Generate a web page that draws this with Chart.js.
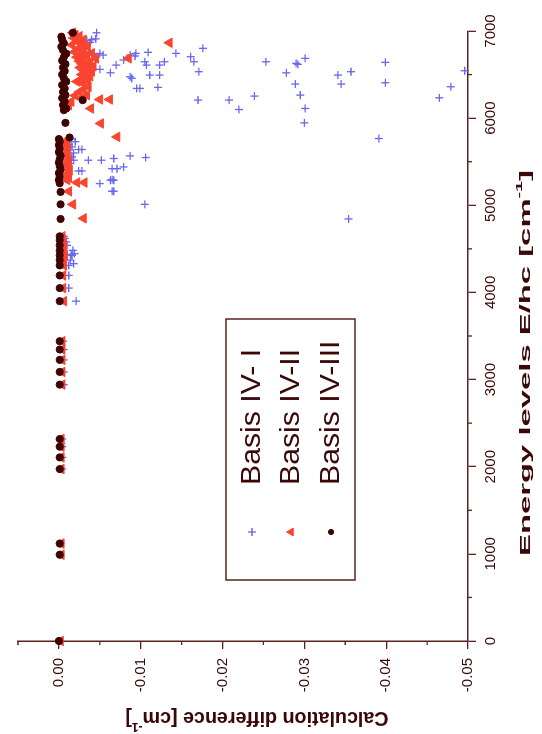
<!DOCTYPE html>
<html>
<head>
<meta charset="utf-8">
<script src="https://cdn.jsdelivr.net/npm/chart.js@4.4.1/dist/chart.umd.min.js"></script>
<style>
html, body { margin: 0; padding: 0; background: #fff; overflow: hidden; }
/* chart is drawn lying down, then turned a quarter turn to the left */
#wrap { position: absolute; left: -96px; top: 96px; width: 734px; height: 542px; transform: rotate(-90deg); }
</style>
</head>
<body>
<div id="wrap"><canvas id="chart" width="734" height="542"></canvas></div>
<script>
// Basis IV- I (blue crosses)
const energyI = [0, 990, 1118, 1973, 2107, 2230, 2318, 2942, 3088, 3226, 3345, 3440,
    3900, 4050, 4195, 4310, 4330, 4370, 4425, 4437, 4445, 4483, 4540, 4580, 4620, 4644,
    4843, 5011, 5161, 5161, 5249, 5287, 5295, 5287, 5300, 5350, 5394, 5394, 5420, 5420, 5440, 5450, 5479,
    5517, 5517, 5517, 5537, 5548, 5555, 5567, 5600, 5640, 5640, 5670, 5700, 5730, 5760,
    5766, 5946, 6099, 6111, 6207, 6207, 6233, 6253, 6264, 6341, 6341, 6353, 6360, 6391, 6391, 6406,
    6457, 6475, 6494, 6494, 6494, 6520, 6521, 6533, 6533, 6544, 6560, 6609, 6609, 6609, 6617, 6629, 6640,
    6647, 6647, 6647, 6647, 6667, 6686, 6700, 6705, 6713, 6724, 6724, 6743, 6743, 6743, 6755, 6760,
    6793, 6801, 6820, 6850, 6870, 6890, 6900, 6910, 6980];
const diffI = [-0.0001, -0.0002, -0.0002, -0.0004, -0.0004, -0.0004, -0.0004, -0.0006, -0.0006, -0.0006, -0.0006, -0.0005,
    -0.0021, -0.0012, -0.0012, -0.0012, -0.0018, -0.0014, -0.0016, -0.0015, -0.0019, -0.0017, -0.0010, -0.0009, -0.0007, -0.0006,
    -0.0354, -0.0105, -0.0065, -0.0067, -0.0050, -0.0063, -0.0065, -0.0067, -0.0008, -0.0010, -0.0024, -0.0028, -0.0065, -0.0071, -0.0079, -0.0012, -0.0014,
    -0.0036, -0.0052, -0.0018, -0.0067, -0.0106, -0.0016, -0.0087, -0.0018, -0.0024, -0.0028, -0.0016, -0.0012, -0.0020, -0.0015,
    -0.0391, -0.0300, -0.0220, -0.0301, -0.0170, -0.0208, -0.0465, -0.0239, -0.0295, -0.0095, -0.0099, -0.0121, -0.0479, -0.0289, -0.0345, -0.0399,
    -0.0089, -0.0087, -0.0111, -0.0123, -0.0341, -0.0278, -0.0063, -0.0171, -0.0357, -0.0496, -0.0050, -0.0070, -0.0107, -0.0123, -0.0292, -0.0290, -0.0399,
    -0.0105, -0.0129, -0.0165, -0.0253, -0.0079, -0.0301, -0.0045, -0.0161, -0.0093, -0.0054, -0.0087, -0.0050, -0.0094, -0.0143, -0.0109, -0.0036,
    -0.0029, -0.0176, -0.0032, -0.0030, -0.0038, -0.0034, -0.0040, -0.0045, -0.0046];

// Basis IV-II (red triangles)
const energyII = [0, 990, 1118, 1973, 2107, 2230, 2318, 2942, 3088, 3226, 3345, 3440,
    3900, 4050, 4195, 4310, 4370, 4425, 4480, 4540, 4600, 4644,
    4850, 5011, 5160, 5261, 5261, 5290, 5320, 5360, 5400, 5440, 5480, 5520, 5560, 5600, 5640, 5680, 5720, 5750, 5785,
    5939, 6111, 6150, 6190, 6214, 6214, 6230, 6260, 6264, 6300, 6330, 6360, 6400, 6420, 6430, 6437, 6460, 6480, 6500,
    6520, 6535, 6550, 6565, 6580, 6595, 6610, 6625, 6640, 6655, 6670, 6685, 6686, 6700, 6715, 6730, 6745, 6760,
    6780, 6800, 6820, 6840, 6860, 6865, 6880, 6900, 6920, 6940, 6954, 6980];
const diffII = [-0.0002, -0.0003, -0.0003, -0.0003, -0.0003, -0.0003, -0.0003, -0.0004, -0.0004, -0.0004, -0.0004, -0.0004,
    -0.0006, -0.0005, -0.0005, -0.0006, -0.0005, -0.0007, -0.0006, -0.0006, -0.0005, -0.0004,
    -0.0030, -0.0017, -0.0012, -0.0022, -0.0031, -0.0010, -0.0012, -0.0010, -0.0013, -0.0011, -0.0009, -0.0012, -0.0010, -0.0009, -0.0011, -0.0010, -0.0008, -0.0010, -0.0071,
    -0.0051, -0.0039, -0.0012, -0.0015, -0.0050, -0.0062, -0.0028, -0.0020, -0.0034, -0.0025, -0.0030, -0.0036, -0.0029, -0.0022, -0.0035, -0.0026, -0.0031, -0.0038, -0.0028,
    -0.0032, -0.0040, -0.0030, -0.0036, -0.0026, -0.0042, -0.0033, -0.0028, -0.0038, -0.0025, -0.0030, -0.0045, -0.0085, -0.0022, -0.0034, -0.0027, -0.0040, -0.0019,
    -0.0030, -0.0024, -0.0035, -0.0016, -0.0028, -0.0135, -0.0022, -0.0030, -0.0018, -0.0025, -0.0020, -0.0017];

// Basis IV-III (dark dots)
const energyIII = [0, 990, 1118, 1973, 2107, 2230, 2318, 2942, 3088, 3226, 3345, 3440,
    3900, 4050, 4195, 4310, 4370, 4425, 4480, 4540, 4600, 4644,
    4843, 5011, 5153, 5253, 5290, 5330, 5370, 5410, 5450, 5490, 5530, 5570, 5610, 5650, 5690, 5730, 5760, 5778,
    5946, 6092, 6111, 6150, 6190, 6207, 6230, 6265, 6300, 6340, 6380, 6420, 6460, 6500, 6540, 6580,
    6620, 6660, 6700, 6740, 6780, 6820, 6860, 6900, 6935, 6980];
const diffIII = [0.0000, -0.0001, -0.0001, -0.0001, -0.0001, -0.0001, -0.0001, -0.0001, -0.0001, -0.0001, -0.0001, -0.0001,
    -0.0001, -0.0001, -0.0001, -0.0001, -0.0001, -0.0001, -0.0001, -0.0001, -0.0001, -0.0001,
    -0.0002, -0.0002, -0.0002, -0.0001, 0.0000, -0.0001, 0.0000, -0.0002, -0.0001, 0.0000, -0.0001, -0.0002, 0.0000, -0.0001, 0.0000, -0.0001, 0.0000, -0.0013,
    -0.0008, -0.0006, -0.0009, -0.0005, -0.0007, -0.0029, -0.0004, -0.0008, -0.0005, -0.0007, -0.0004, -0.0009, -0.0006, -0.0004, -0.0007, -0.0005,
    -0.0008, -0.0004, -0.0006, -0.0009, -0.0005, -0.0003, -0.0006, -0.0004, -0.0003, -0.0017];

const seriesNames = ['Basis IV- I', 'Basis IV-II', 'Basis IV-III'];

const axisColor = '#5c2222';
const textColor = '#3b0808';
const blue = 'rgb(104, 104, 238)';
const red = 'rgb(250, 68, 48)';
const dark = 'rgb(62, 4, 4)';

function pairs(xs, ys) {
    return xs.map((x, i) => ({ x: x, y: ys[i] }));
}

// draws a string with a raised "-1", squeezed or stretched to a given length
function drawTitle(ctx, parts, cx, cy, angle, targetLen, size) {
    ctx.save();
    const big = 'bold ' + size + 'px "Liberation Sans", Arial, sans-serif';
    const small = 'bold ' + Math.round(size * 0.6) + 'px "Liberation Sans", Arial, sans-serif';
    let total = 0;
    parts.forEach(p => { ctx.font = p.sup ? small : big; total += ctx.measureText(p.t).width; });
    ctx.translate(cx, cy);
    ctx.rotate(angle);
    ctx.scale(targetLen / total, 1);
    ctx.fillStyle = textColor;
    ctx.textBaseline = 'middle';
    ctx.textAlign = 'left';
    let x = -total / 2;
    parts.forEach(p => {
        ctx.font = p.sup ? small : big;
        ctx.fillText(p.t, x, p.sup ? -size * 0.4 : 0);
        x += ctx.measureText(p.t).width;
    });
    ctx.restore();
}

const extras = {
    id: 'extras',
    afterDraw(chart) {
        const ctx = chart.ctx;
        const xs = chart.scales.x, ys = chart.scales.y;
        const area = chart.chartArea;

        // minor ticks
        ctx.save();
        ctx.strokeStyle = axisColor;
        ctx.lineWidth = 1.3;
        ctx.beginPath();
        for (let v = 500; v < 7000; v += 1000) {
            const px = xs.getPixelForValue(v);
            ctx.moveTo(px, area.bottom);
            ctx.lineTo(px, area.bottom + 4);
        }
        for (let v = -0.045; v < 0.006; v += 0.01) {
            const py = ys.getPixelForValue(v);
            ctx.moveTo(area.left, py);
            ctx.lineTo(area.left - 4, py);
        }
        ctx.stroke();
        ctx.restore();

        // axis titles
        drawTitle(ctx, [{ t: 'Energy levels E/hc [cm' }, { t: '-1', sup: true }, { t: ']' }],
            371, 526, 0, 386, 15);
        drawTitle(ctx, [{ t: 'Calculation difference [cm' }, { t: '-1', sup: true }, { t: ']' }],
            16, 257, -Math.PI / 2, 263, 20);

        // legend box
        const bx = 154, by = 226, bw = 261, bh = 129;
        ctx.save();
        ctx.fillStyle = '#fff';
        ctx.fillRect(bx, by, bw, bh);
        ctx.strokeStyle = axisColor;
        ctx.lineWidth = 1.5;
        ctx.strokeRect(bx, by, bw, bh);
        const rows = [252, 291, 331];
        const styles = [
            { pointStyle: 'cross', radius: 4, rotation: 0, borderWidth: 1.3, color: blue },
            { pointStyle: 'triangle', radius: 4.5, rotation: 0, borderWidth: 1, color: red },
            { pointStyle: 'circle', radius: 2.6, rotation: 0, borderWidth: 1, color: dark }
        ];
        rows.forEach((ry, i) => {
            const st = styles[i];
            ctx.fillStyle = st.color;
            ctx.strokeStyle = st.color;
            ctx.lineWidth = st.borderWidth;
            Chart.helpers.drawPoint(ctx, st, 202, ry);
            ctx.save();
            ctx.translate(249, ry);
            ctx.scale(1.12, 1);
            ctx.font = '27px "Liberation Sans", Arial, sans-serif';
            ctx.fillStyle = textColor;
            ctx.textBaseline = 'middle';
            ctx.fillText(seriesNames[i], 0, 1);
            ctx.restore();
        });
        ctx.restore();
    }
};

var ctx = document.getElementById('chart').getContext('2d');
var myChart = new Chart(ctx, {
    type: 'scatter',
    data: {
        datasets: [{
            label: seriesNames[0],
            data: pairs(energyI, diffI),
            pointStyle: 'cross',
            pointRadius: 4,
            borderColor: blue,
            backgroundColor: blue,
            borderWidth: 1.3,
            order: 3,
            clip: false
        }, {
            label: seriesNames[1],
            data: pairs(energyII, diffII),
            pointStyle: 'triangle',
            pointRadius: 5.5,
            borderColor: red,
            backgroundColor: red,
            borderWidth: 1,
            order: 2,
            clip: false
        }, {
            label: seriesNames[2],
            data: pairs(energyIII, diffIII),
            pointStyle: 'circle',
            pointRadius: 3.6,
            borderColor: dark,
            backgroundColor: dark,
            borderWidth: 1,
            order: 1,
            clip: false
        }]
    },
    options: {
        responsive: false,
        animation: false,
        devicePixelRatio: 1,
        layout: { padding: { top: 14, right: 31, left: 0, bottom: 0 } },
        plugins: {
            legend: { display: false },
            tooltip: { enabled: false }
        },
        scales: {
            x: {
                type: 'linear',
                min: 0,
                max: 7000,
                afterFit: s => { s.height = 74; },
                border: { display: true, color: axisColor, width: 1.5 },
                grid: { drawOnChartArea: false, drawTicks: true, tickLength: 8, color: axisColor, lineWidth: 1.3 },
                ticks: {
                    stepSize: 1000,
                    padding: 6,
                    maxRotation: 0,
                    autoSkip: false,
                    color: textColor,
                    font: { family: '"Liberation Sans", Arial, sans-serif', size: 15 },
                    callback: v => String(v)
                }
            },
            y: {
                type: 'linear',
                min: -0.05,
                max: 0.005,
                afterFit: s => { s.width = 93; },
                border: { display: true, color: axisColor, width: 1.5 },
                grid: { drawOnChartArea: false, drawTicks: true, tickLength: 8, color: axisColor, lineWidth: 1.3 },
                ticks: {
                    stepSize: 0.01,
                    includeBounds: false,
                    padding: 9,
                    color: textColor,
                    font: { family: '"Liberation Sans", Arial, sans-serif', size: 15 },
                    callback: v => {
                        const h = v * 100;
                        if (Math.abs(h - Math.round(h)) > 1e-6) return '';
                        return (Math.round(h) / 100).toFixed(2);
                    }
                }
            }
        }
    },
    plugins: [extras]
});
</script>
</body>
</html>
